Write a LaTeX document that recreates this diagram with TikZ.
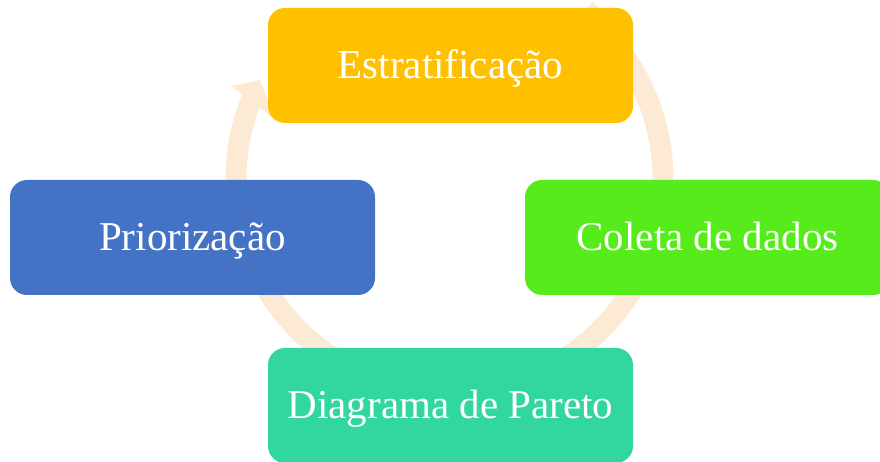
\documentclass[tikz,border=0pt]{standalone}
\usepackage{fontspec}
\setmainfont{Liberation Serif}
\definecolor{ringc}{RGB}{253,234,212}
\definecolor{estc}{RGB}{255,192,0}
\definecolor{colc}{RGB}{86,235,26}
\definecolor{parc}{RGB}{50,214,160}
\definecolor{pric}{RGB}{68,114,196}
\begin{document}
\begin{tikzpicture}[x=1pt,y=1pt,
  stage/.style={rounded corners=17pt, minimum width=365pt, minimum height=115pt,
    inner sep=0pt, text=white, font=\fontsize{41}{48}\selectfont,
    text height=27pt, text depth=0pt},
  ring/.style={draw=ringc, line width=21pt}]
\clip (0,0) rectangle (880,462);
\coordinate (ctr) at (449.5,283);
\draw[ring] (ctr) ++(45:213.5) arc[start angle=45, end angle=-204, radius=213.5];
\fill[ringc] (231,376) -- (260,382) -- (276,342) -- cycle;
\fill[ringc] (593,460) -- (580,447) -- (606,447) -- cycle;
\node[stage, fill=estc] (estr) at (450.5,396.5) {Estratificação};
\node[stage, fill=colc] (cole) at (707.5,224.5) {Coleta de dados};
\node[stage, fill=parc] (pare) at (450.5,56.5) {Diagrama de Pareto};
\node[stage, fill=pric] (prio) at (192.5,224.5) {Priorização};
\end{tikzpicture}
\end{document}
